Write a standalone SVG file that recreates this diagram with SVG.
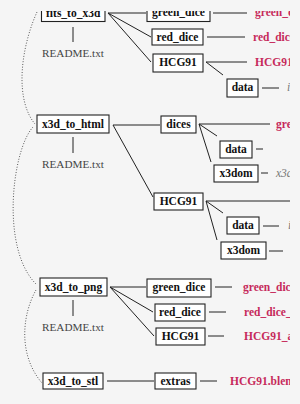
<svg xmlns="http://www.w3.org/2000/svg" width="300" height="404" viewBox="0 0 300 404">
<defs>
<clipPath id="crop"><rect x="0" y="11" width="290" height="393"/></clipPath>
</defs>
<style>
.box{fill:#ffffff;stroke:#222;stroke-width:1.1}
.bt{font-family:"Liberation Serif",serif;font-weight:bold;font-size:11.5px;fill:#111;text-anchor:middle}
.rd{font-family:"Liberation Serif",serif;font-size:11.2px;fill:#444;text-anchor:middle}
.leaf{font-family:"Liberation Serif",serif;font-weight:bold;font-size:11.5px;fill:#c62a5b}
.it{font-family:"Liberation Serif",serif;font-style:italic;font-size:11.5px;fill:#777}
.ln{stroke:#222;stroke-width:1;fill:none}
.dot{stroke:#333;stroke-width:0.9;fill:none;stroke-dasharray:0.9 1.8}
</style>
<rect x="0" y="0" width="300" height="404" fill="#f5f5f5"/>
<g clip-path="url(#crop)">
<g id="connectors">
<path class="dot" d="M37 12 C20 50 15 100 35 124"/>
<path class="dot" d="M33 127 C12 150 0 250 37 285"/>
<path class="dot" d="M36 290 C22 315 18 355 42 383"/>
<path class="ln" d="M108 13 L146 13 M108 13 L151 37 M108 13 L151 62"/>
<path class="ln" d="M73 27 V42"/>
<path class="ln" d="M213 13 H247 M207 37 H245 M206 62 H247 M206 62 L223 75 M262 88 H279"/>
<path class="ln" d="M113 125 H160 M113 125 L153 197"/>
<path class="ln" d="M73 137 V153"/>
<path class="ln" d="M199 124 H270 M199 124 L217 136 M199 124 L211 162 M256 149 H263 M261 173 H268"/>
<path class="ln" d="M206 201 H295 M206 201 L223 213 M206 201 L217 240 M263 226 H279 M269 251 H283"/>
<path class="ln" d="M110 287 H146 M110 287 L153 312 M110 287 L154 336"/>
<path class="ln" d="M73 300 V316"/>
<path class="ln" d="M215 287 H232 M209 312 H226 M208 336 H224"/>
<path class="ln" d="M107 381 H154 M200 381 H217"/>
</g>
<g id="fits_to_x3d"><rect class="box" x="41.5" y="3" width="63.5" height="18.5"/><text class="bt" x="73.2" y="16.5">fits_to_x3d</text></g>
<g id="readme1"><text class="rd" x="73" y="57">README.txt</text></g>
<g id="green_dice1"><rect class="box" x="147" y="3" width="63" height="18.5"/><text class="bt" x="178.5" y="15.5">green_dice</text></g>
<g id="red_dice1"><rect class="box" x="152" y="29" width="51" height="16"/><text class="bt" x="177.5" y="41">red_dice</text></g>
<g id="HCG91_1"><rect class="box" x="153" y="54" width="50" height="18"/><text class="bt" x="178" y="66">HCG91</text></g>
<g id="data1"><rect class="box" x="227" y="79" width="31" height="18"/><text class="bt" x="242.5" y="91">data</text></g>
<g id="leaf1"><text class="leaf" x="255" y="15.5">green_dice</text></g>
<g id="leaf2"><text class="leaf" x="253" y="41">red_dice</text></g>
<g id="leaf3"><text class="leaf" x="255" y="66">HCG91</text></g>
<g id="leaf4"><text class="it" x="287" y="91">i</text></g>

<g id="x3d_to_html"><rect class="box" x="37" y="115" width="72" height="18"/><text class="bt" x="73" y="128">x3d_to_html</text></g>
<g id="readme2"><text class="rd" x="73" y="168">README.txt</text></g>
<g id="dices"><rect class="box" x="161" y="116" width="35" height="17"/><text class="bt" x="178.5" y="128">dices</text></g>
<g id="data2"><rect class="box" x="220" y="141" width="32" height="17"/><text class="bt" x="236" y="153">data</text></g>
<g id="x3dom1"><rect class="box" x="214" y="165" width="44" height="17"/><text class="bt" x="236" y="177">x3dom</text></g>
<g id="HCG91_2"><rect class="box" x="154" y="193" width="49" height="17"/><text class="bt" x="178.5" y="205">HCG91</text></g>
<g id="data3"><rect class="box" x="227" y="217" width="32" height="17"/><text class="bt" x="243" y="229">data</text></g>
<g id="x3dom2"><rect class="box" x="221" y="242" width="45" height="17"/><text class="bt" x="243.5" y="254">x3dom</text></g>
<g id="leaf5"><text class="leaf" x="276" y="128">green_dice</text></g>
<g id="leaf6"><text class="it" x="276" y="177">x3d</text></g>
<g id="leaf7"><text class="it" x="288" y="229">i</text></g>

<g id="x3d_to_png"><rect class="box" x="40" y="278" width="67" height="18"/><text class="bt" x="73.5" y="291">x3d_to_png</text></g>
<g id="readme3"><text class="rd" x="73" y="331">README.txt</text></g>
<g id="green_dice3"><rect class="box" x="147" y="279" width="64" height="18"/><text class="bt" x="179" y="291">green_dice</text></g>
<g id="red_dice3"><rect class="box" x="155" y="304" width="50" height="17"/><text class="bt" x="180" y="316">red_dice</text></g>
<g id="HCG91_3"><rect class="box" x="156" y="328" width="49" height="17"/><text class="bt" x="180.5" y="340">HCG91</text></g>
<g id="leaf8"><text class="leaf" x="243" y="291">green_dice</text></g>
<g id="leaf9"><text class="leaf" x="244" y="316">red_dice_</text></g>
<g id="leaf10"><text class="leaf" x="244" y="340">HCG91_a</text></g>

<g id="x3d_to_stl"><rect class="box" x="43" y="373" width="60" height="16"/><text class="bt" x="73" y="385">x3d_to_stl</text></g>
<g id="extras"><rect class="box" x="155" y="373" width="41" height="16"/><text class="bt" x="175.5" y="385">extras</text></g>
<g id="leaf11"><text class="leaf" x="230" y="385">HCG91.blen</text></g>
</g>
</svg>
